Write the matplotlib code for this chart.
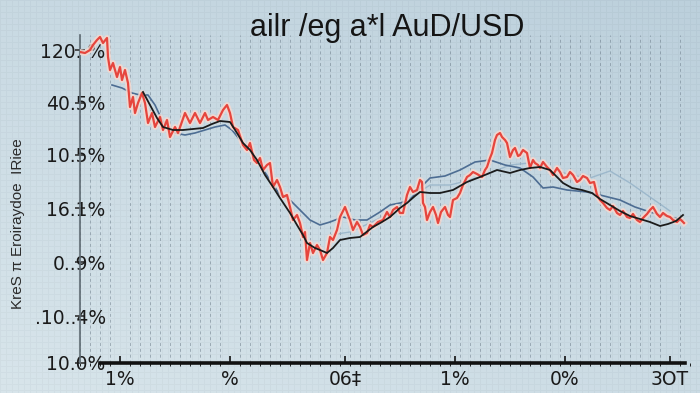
import numpy as np
import matplotlib
matplotlib.use("Agg")
import matplotlib.pyplot as plt
from matplotlib.ticker import MultipleLocator

# red (noisy) rate: trading day, level
red_day = [0, 5, 10, 13, 17, 20, 23, 27, 28, 30, 33, 37, 40, 42, 45, 48, 50, 53, 55, 58,
           62, 65, 68, 72, 75, 80, 83, 87, 90, 95, 98, 105, 110, 115, 120, 125, 128, 133, 138, 143,
           147, 150, 153, 158, 163, 167, 170, 174, 177, 180, 183, 187, 190, 193, 197, 200, 203, 207, 210, 213,
           217, 220, 223, 225, 227, 230, 233, 237, 240, 243, 247, 250, 253, 257, 260, 265, 268, 270, 273, 277,
           280, 283, 287, 290, 293, 298, 303, 307, 310, 313, 317, 320, 323, 327, 330, 333, 337, 340, 342, 343,
           345, 347, 350, 353, 356, 358, 361, 365, 368, 370, 373, 377, 380, 383, 387, 390, 393, 397, 402, 405,
           407, 410, 412, 415, 417, 420, 422, 425, 427, 430, 433, 435, 438, 440, 443, 447, 450, 453, 455, 458,
           460, 463, 467, 470, 473, 477, 480, 483, 487, 490, 493, 497, 500, 503, 507, 510, 514, 517, 520, 523,
           527, 530, 533, 537, 540, 543, 547, 550, 553, 557, 560, 563, 567, 570, 573, 577, 580, 583, 587, 590,
           593, 597, 600, 604]
red_level = [311, 310, 313, 318, 323, 326, 320, 325, 306, 293, 300, 286, 296, 283, 293, 280, 256, 266, 250, 260,
             270, 260, 240, 250, 236, 246, 233, 243, 226, 236, 230, 250, 240, 250, 240, 250, 243, 246, 243, 253,
             258, 250, 236, 233, 218, 213, 220, 203, 200, 205, 193, 198, 200, 176, 183, 176, 166, 168, 156, 143,
             148, 140, 126, 131, 103, 120, 110, 118, 113, 103, 110, 126, 123, 133, 146, 156, 148, 143, 133, 141,
             136, 128, 130, 138, 136, 141, 143, 151, 146, 153, 156, 150, 150, 168, 176, 171, 173, 183, 181, 160,
             156, 143, 151, 156, 148, 140, 151, 156, 148, 146, 163, 165, 170, 178, 186, 188, 191, 189, 186, 193,
             196, 205, 210, 223, 228, 230, 226, 223, 220, 206, 213, 215, 207, 208, 213, 210, 195, 203, 200, 198,
             195, 201, 196, 193, 188, 195, 191, 185, 186, 191, 188, 181, 183, 187, 185, 180, 181, 168, 163, 160,
             155, 153, 157, 150, 148, 152, 146, 145, 149, 143, 141, 145, 149, 153, 156, 149, 146, 150, 147, 146,
             143, 141, 144, 140]

# black (smoothed) rate
black_day = [63, 70, 77, 83, 93, 103, 113, 123, 132, 140, 150, 157, 163, 170, 177, 185, 193, 200, 210, 217,
             223, 227, 235, 240, 247, 253, 260, 270, 280, 293, 302, 310, 320, 327, 335, 340, 350, 360, 373, 387,
             400, 417, 430, 440, 450, 460, 470, 475, 483, 492, 502, 512, 520, 530, 540, 550, 560, 570, 580, 588,
             596, 603]
black_level = [271, 258, 245, 236, 233, 233, 234, 235, 239, 242, 241, 230, 220, 213, 203, 188, 176, 165, 150, 138,
               128, 120, 115, 113, 110, 115, 123, 125, 126, 136, 141, 146, 155, 160, 167, 171, 170, 170, 173, 181,
               186, 193, 190, 193, 195, 196, 193, 188, 180, 175, 173, 170, 164, 158, 152, 147, 144, 141, 137, 139,
               142, 148]

# steel blue rate
blue_day = [32, 42, 52, 60, 68, 75, 82, 95, 105, 115, 125, 135, 145, 152, 160, 170, 180, 190, 200, 210,
            220, 230, 240, 250, 263, 275, 287, 300, 310, 320, 330, 340, 350, 365, 380, 395, 410, 425, 440, 453,
            463, 473, 487, 507, 520, 540, 555, 570, 585, 603]
blue_level = [278, 275, 270, 268, 268, 258, 243, 230, 228, 230, 233, 236, 238, 233, 223, 213, 198, 183, 168, 163,
              153, 143, 138, 141, 146, 143, 143, 151, 158, 160, 163, 175, 185, 187, 193, 201, 203, 198, 195, 186,
              175, 176, 173, 171, 168, 163, 156, 151, 147, 143]

# faint light-blue rate
light_day = [250, 270, 290, 310, 330, 350, 370, 390, 410, 430, 450, 470, 490, 510, 530, 550, 570, 590]
light_level = [128, 131, 140, 150, 165, 178, 178, 183, 190, 198, 200, 195, 188, 185, 192, 180, 166, 152]

ytick_pos = [0, 47, 101, 155, 208, 260, 313]
ytick_lab = ["10.0%", ".10..4%", "0..9%", "16.1%", "10.5%", "40.5%", "120. %"]
xtick_pos = [40, 150, 265, 375, 485, 590]
xtick_lab = ["1%", "%", "06\u2021", "1%", "0%", "3OT"]

title = "ailr /eg a*l AuD/USD"
ylabel = "KreS \u03c0 Eroiraydoe  IRiee"

W, H = 700, 393
fig = plt.figure(figsize=(W / 100, H / 100), dpi=100)

# background: soft blue gradient with a faint screen texture
bg = fig.add_axes([0, 0, 1, 1])
yy, xx = np.mgrid[0:H, 0:W]
t = 0.55 * (yy / H) + 0.45 * (1 - xx / W)
top = np.array([188, 208, 220]) / 255
bot = np.array([216, 229, 235]) / 255
img = top[None, None, :] * (1 - t[..., None]) + bot[None, None, :] * t[..., None]
tex = ((yy % 6 == 0) | (xx % 6 == 0)) * 0.025
img = np.clip(img - tex[..., None], 0, 1)
bg.imshow(img, aspect="auto", extent=[0, 1, 0, 1], zorder=0)
bg.axis("off")

ax = fig.add_axes([80 / W, 30 / H, 610 / W, 328 / H])
ax.patch.set_alpha(0)
ax.set_xlim(0, 610)
ax.set_ylim(0, 328)

ax.xaxis.set_minor_locator(MultipleLocator(10))
ax.grid(which="minor", axis="x", color="#5c6c7a", alpha=0.45, lw=0.7, ls=(0, (3, 3)))

ax.plot(light_day, light_level, color="#93b1c7", lw=1.0, alpha=0.8, zorder=2)
ax.plot(blue_day, blue_level, color="#4d6d93", lw=1.2, zorder=3)
# pale halo under the red line
ax.plot(red_day, red_level, color="#f7d8cf", lw=4.2, alpha=0.85, zorder=4, solid_joinstyle="round")
ax.plot(red_day, red_level, color="#e6453d", lw=1.6, zorder=4)
ax.plot(black_day, black_level, color="#1b1b1b", lw=1.3, zorder=5)

for s in ["top", "right"]:
    ax.spines[s].set_visible(False)
ax.spines["left"].set_color("#5e6a72")
ax.spines["left"].set_linewidth(1.2)
ax.spines["bottom"].set_color("#111111")
ax.spines["bottom"].set_linewidth(2.6)
ax.spines["bottom"].set_bounds(20, 605)

ax.set_yticks(ytick_pos)
ax.set_yticklabels(ytick_lab, fontsize=13.5, color="#1a1a1a")
ax.set_xticks(xtick_pos)
ax.set_xticklabels(xtick_lab, fontsize=13.5, color="#1a1a1a")
ax.tick_params(axis="y", direction="inout", length=7, width=1.2, color="#333333", pad=-22)
ax.tick_params(axis="x", direction="in", length=5, width=1.2, color="#111111", pad=5)

fig.text(0.553, 0.928, title, ha="center", va="center", fontsize=22,
         family="Liberation Sans", color="#151515")
fig.text(0.026, 0.43, ylabel, ha="center", va="center", rotation=90, fontsize=11,
         family="Liberation Sans", color="#2a2a2a")

fig.savefig("out.png", dpi=100)
